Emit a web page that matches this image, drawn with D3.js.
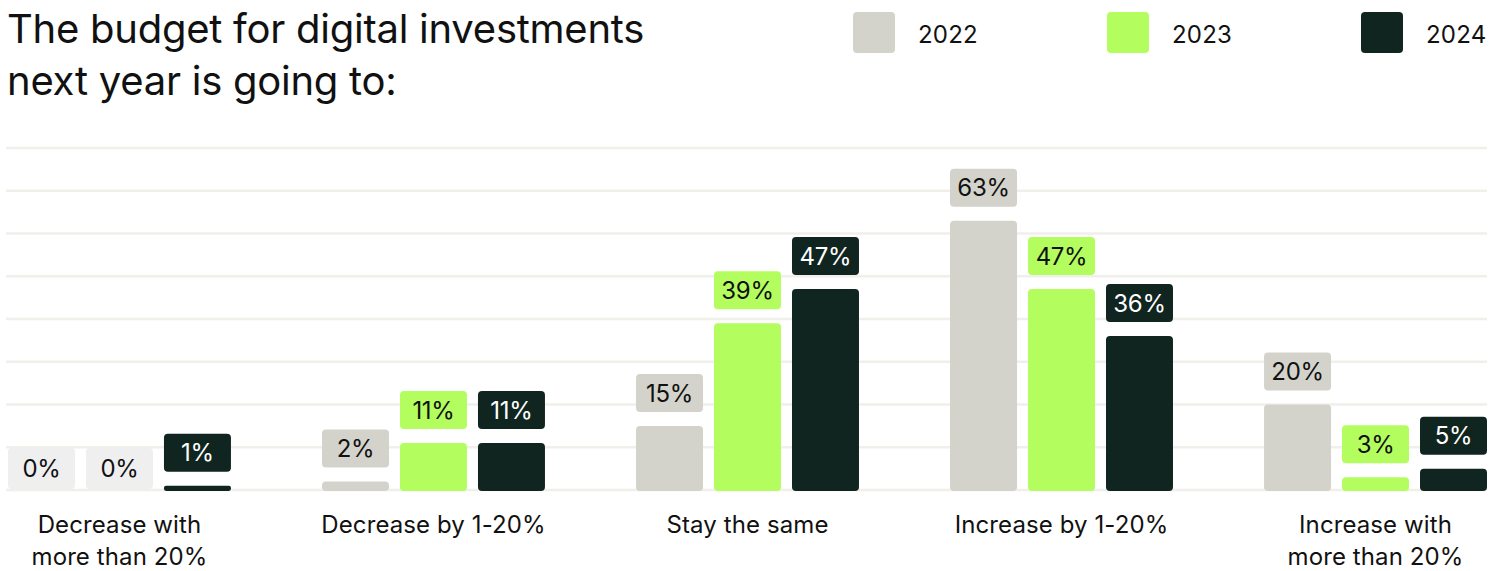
<!DOCTYPE html>
<html>
<head>
<meta charset="utf-8">
<script src="https://cdn.jsdelivr.net/npm/d3@7"></script>
<style>
  html, body { margin: 0; padding: 0; background: #ffffff; }
  svg { display: block; font-family: Inter, "Noto Sans", sans-serif; }
</style>
</head>
<body>
<svg id="chart" width="1490" height="571"></svg>
<script>
// Survey answers: expected change in next year's digital investment budget (%)
const categories = [
  ["Decrease with", "more than 20%"],
  ["Decrease by 1-20%"],
  ["Stay the same"],
  ["Increase by 1-20%"],
  ["Increase with", "more than 20%"]
];
const years = ["2022", "2023", "2024"];
const values2022 = [0, 2, 15, 63, 20];
const values2023 = [0, 11, 39, 47, 3];
const values2024 = [1, 11, 47, 36, 5];
const gridTicks = [0, 10, 20, 30, 40, 50, 60, 70, 80];

const colors = { "2022": "#d3d3cb", "2023": "#b3fd5f", "2024": "#10251f" };
const labelText = { "2022": "#111111", "2023": "#111111", "2024": "#ffffff" };
const zeroFill = "#efefef";

const series = { "2022": values2022, "2023": values2023, "2024": values2024 };
const rows = categories.map((c, i) => ({
  key: i,
  lines: c,
  bars: years.map(y => ({ year: y, value: series[y][i] }))
}));

const svg = d3.select("#chart");

const x0 = d3.scaleBand()
  .domain(rows.map(d => d.key))
  .range([8, 1487])
  .paddingInner(0.29)
  .paddingOuter(0);

const x1 = d3.scaleBand()
  .domain(years)
  .range([0, x0.bandwidth()])
  .paddingInner(0.141)
  .paddingOuter(0);

const y = d3.scaleLinear().domain([0, 80]).range([490, 148]);

// Title
const title = svg.append("text")
  .attr("x", 7)
  .attr("y", 43)
  .attr("fill", "#111111")
  .style("font-size", "40px")
  .style("letter-spacing", "-0.25px");
title.append("tspan").attr("x", 7).attr("dy", 0).text("The budget for digital investments");
title.append("tspan").attr("x", 7).attr("dy", 52).text("next year is going to:");

// Legend
const legend = svg.append("g")
  .selectAll("g")
  .data(years)
  .join("g")
  .attr("transform", (d, i) => `translate(${853 + i * 254},12)`);
legend.append("rect")
  .attr("width", 42).attr("height", 41).attr("rx", 4)
  .attr("fill", d => colors[d]);
legend.append("text")
  .attr("x", 65).attr("y", 31)
  .attr("fill", "#111111")
  .style("font-size", "24px")
  .style("letter-spacing", "0.2px")
  .text(d => d);

// Horizontal gridlines
svg.append("g")
  .selectAll("line")
  .data(gridTicks)
  .join("line")
  .attr("x1", 6).attr("x2", 1487)
  .attr("y1", d => y(d)).attr("y2", d => y(d))
  .attr("stroke", "#f0efea")
  .attr("stroke-width", 2.5);

// Grouped bars with value pills
const groups = svg.append("g")
  .selectAll("g")
  .data(rows)
  .join("g")
  .attr("transform", d => `translate(${x0(d.key)},0)`);

const bar = groups.selectAll("g")
  .data(d => d.bars)
  .join("g")
  .attr("transform", d => `translate(${x1(d.year)},0)`);

const boxH = 38, gap = 14;

bar.filter(d => d.value > 0)
  .append("rect")
  .attr("y", d => y(d.value))
  .attr("width", x1.bandwidth())
  .attr("height", d => y(0) - y(d.value) + 1)
  .attr("rx", d => Math.min(4, (y(0) - y(d.value)) / 2))
  .attr("fill", d => colors[d.year]);

const boxTop = d => d.value > 0 ? y(d.value) - gap - boxH : y(0) - 42;

bar.append("rect")
  .attr("y", boxTop)
  .attr("width", x1.bandwidth())
  .attr("height", d => d.value > 0 ? boxH : 41)
  .attr("rx", 4)
  .attr("fill", d => d.value > 0 ? colors[d.year] : zeroFill);

bar.append("text")
  .attr("x", x1.bandwidth() / 2)
  .attr("y", d => boxTop(d) + (d.value > 0 ? boxH : 41) / 2)
  .attr("dy", "0.36em")
  .attr("text-anchor", "middle")
  .attr("fill", d => d.value > 0 ? labelText[d.year] : "#111111")
  .style("font-size", "24px")
  .style("letter-spacing", "-0.3px")
  .text(d => d.value + "%");

// Category labels under each group
const cat = groups.append("text")
  .attr("x", x0.bandwidth() / 2)
  .attr("y", 533)
  .attr("text-anchor", "middle")
  .attr("fill", "#111111")
  .style("font-size", "24px")
  .style("letter-spacing", "0.1px");
cat.selectAll("tspan")
  .data(d => d.lines)
  .join("tspan")
  .attr("x", x0.bandwidth() / 2)
  .attr("dy", (d, i) => i === 0 ? 0 : 32)
  .text(d => d);
</script>
</body>
</html>
